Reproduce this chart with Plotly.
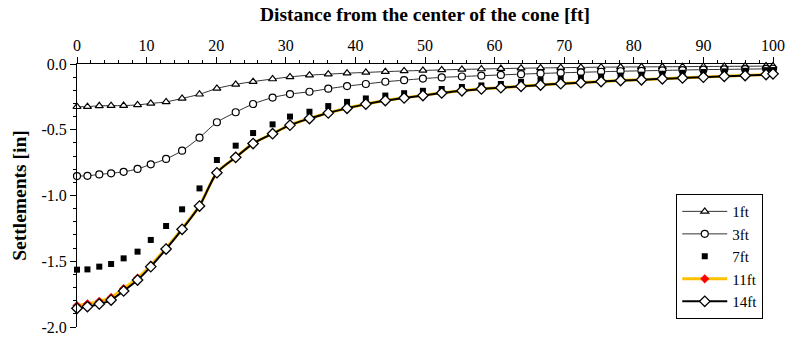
import plotly.graph_objects as go

distance_ft = [0, 1.5, 3.2, 4.9, 6.7, 8.7, 10.6, 12.8, 15.1, 17.6, 20.1, 22.8, 25.3, 28.1,
               30.6, 33.4, 36.1, 38.8, 41.5, 44.3, 47.0, 49.7, 52.4, 55.3, 58.1, 60.9,
               63.8, 66.6, 69.5, 72.4, 75.3, 78.1, 81.1, 84.1, 87.0, 90.0, 93.0, 96.0, 99.0, 100]

settle_1ft = [-0.325, -0.324, -0.318, -0.317, -0.316, -0.311, -0.300, -0.288, -0.262, -0.230,
              -0.186, -0.155, -0.134, -0.114, -0.098, -0.085, -0.077, -0.070, -0.064, -0.058,
              -0.053, -0.049, -0.045, -0.041, -0.038, -0.035, -0.032, -0.030, -0.028, -0.026,
              -0.024, -0.023, -0.022, -0.021, -0.020, -0.019, -0.018, -0.017, -0.016, -0.016]

settle_3ft = [-0.852, -0.850, -0.840, -0.831, -0.820, -0.798, -0.763, -0.722, -0.659, -0.560,
              -0.443, -0.367, -0.304, -0.255, -0.229, -0.211, -0.188, -0.168, -0.152, -0.135,
              -0.123, -0.111, -0.102, -0.095, -0.089, -0.083, -0.077, -0.072, -0.067, -0.063,
              -0.059, -0.055, -0.052, -0.049, -0.046, -0.043, -0.041, -0.039, -0.037, -0.036]

settle_7ft = [-1.564, -1.562, -1.541, -1.521, -1.478, -1.427, -1.338, -1.232, -1.105, -0.946,
              -0.730, -0.621, -0.525, -0.459, -0.400, -0.363, -0.320, -0.288, -0.262, -0.240,
              -0.222, -0.204, -0.190, -0.175, -0.163, -0.152, -0.135, -0.122, -0.112, -0.103,
              -0.095, -0.088, -0.081, -0.074, -0.067, -0.061, -0.056, -0.052, -0.047, -0.046]

settle_11ft = [-1.836, -1.823, -1.805, -1.775, -1.708, -1.628, -1.531, -1.399, -1.252, -1.077,
               -0.826, -0.709, -0.604, -0.529, -0.464, -0.414, -0.371, -0.336, -0.304, -0.277,
               -0.257, -0.239, -0.219, -0.203, -0.189, -0.179, -0.169, -0.159, -0.149, -0.141,
               -0.133, -0.125, -0.119, -0.112, -0.105, -0.099, -0.093, -0.087, -0.079, -0.074]

settle_14ft = [-1.858, -1.845, -1.825, -1.795, -1.726, -1.643, -1.541, -1.407, -1.257, -1.080,
               -0.827, -0.710, -0.605, -0.530, -0.465, -0.415, -0.372, -0.337, -0.305, -0.278,
               -0.258, -0.240, -0.220, -0.204, -0.190, -0.180, -0.170, -0.160, -0.150, -0.142,
               -0.134, -0.126, -0.120, -0.113, -0.106, -0.100, -0.094, -0.088, -0.080, -0.075]

x_ticks = [0, 10, 20, 30, 40, 50, 60, 70, 80, 90, 100]
y_ticks = [0.0, -0.5, -1.0, -1.5, -2.0]
y_tick_text = ["0.0", "-0.5", "-1.0", "-1.5", "-2.0"]

FONT = "Liberation Serif"

fig = go.Figure()
fig.add_trace(go.Scatter(
    x=distance_ft, y=settle_1ft, name="1ft", mode="lines+markers", cliponaxis=False,
    line=dict(color="#333333", width=1, shape="spline", smoothing=0.8),
    marker=dict(symbol="triangle-up", size=7, color="white", line=dict(color="black", width=1.2))))
fig.add_trace(go.Scatter(
    x=distance_ft, y=settle_3ft, name="3ft", mode="lines+markers", cliponaxis=False,
    line=dict(color="#333333", width=1, shape="spline", smoothing=0.8),
    marker=dict(symbol="circle", size=7, color="white", line=dict(color="black", width=1.2))))
fig.add_trace(go.Scatter(
    x=distance_ft, y=settle_7ft, name="7ft", mode="markers", cliponaxis=False,
    marker=dict(symbol="square", size=6, color="black")))
fig.add_trace(go.Scatter(
    x=distance_ft, y=settle_11ft, name="11ft", mode="lines+markers", cliponaxis=False,
    line=dict(color="#FFC000", width=3, shape="spline", smoothing=0.8),
    marker=dict(symbol="diamond", size=7, color="red", line=dict(color="red", width=0))))
fig.add_trace(go.Scatter(
    x=distance_ft, y=settle_14ft, name="14ft", mode="lines+markers", cliponaxis=False,
    line=dict(color="black", width=2, shape="spline", smoothing=0.8),
    marker=dict(symbol="diamond", size=8, color="white", line=dict(color="black", width=1.3))))

fig.update_layout(
    width=785, height=341,
    margin=dict(l=77, r=12, t=64, b=14),
    paper_bgcolor="white", plot_bgcolor="white",
    font=dict(family=FONT, size=16, color="black"),
    showlegend=True,
    legend=dict(
        x=0.861, y=0.03, xanchor="left", yanchor="bottom",
        bgcolor="white", bordercolor="black", borderwidth=1,
        font=dict(family=FONT, size=15, color="black"),
        tracegroupgap=0, itemwidth=45,
    ),
)

fig.update_xaxes(
    side="top", range=[0, 100], tickvals=x_ticks, automargin=False,
    showgrid=False, zeroline=False,
    showline=True, linecolor="black", linewidth=1,
    ticks="outside", ticklen=6, tickcolor="black", tickwidth=1,
    minor=dict(ticks="outside", ticklen=3, dtick=2, tick0=0, tickcolor="black", showgrid=False),
    tickfont=dict(family=FONT, size=16, color="black"),
    title=dict(text="<b>Distance from the center of the cone [ft]</b>",
               font=dict(family=FONT, size=19.5, color="black"), standoff=9),
)
fig.update_yaxes(
    range=[-2, 0], tickvals=y_ticks, ticktext=y_tick_text, automargin=False,
    showgrid=False, zeroline=False,
    showline=True, linecolor="black", linewidth=1,
    ticks="outside", ticklen=6, tickcolor="black", tickwidth=1,
    minor=dict(ticks="outside", ticklen=3, dtick=0.1, tick0=0, tickcolor="black", showgrid=False),
    tickfont=dict(family=FONT, size=16, color="black"),
    title=dict(text="<b>Settlements [in]</b>",
               font=dict(family=FONT, size=19.5, color="black"), standoff=9),
)

fig.write_html("out.html")
